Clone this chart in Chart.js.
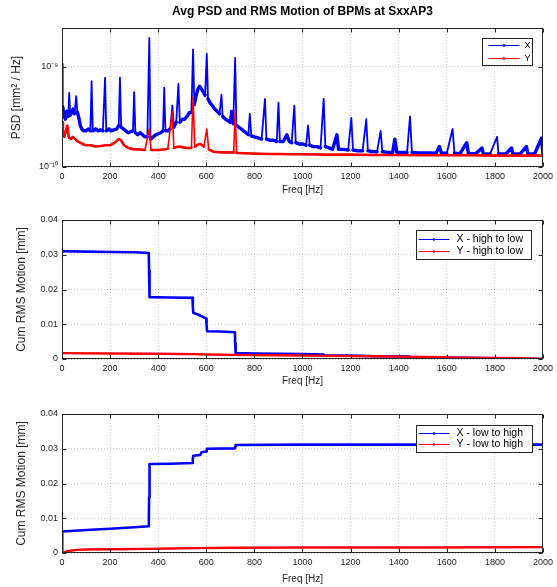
<!DOCTYPE html>
<html><head><meta charset="utf-8">
<script src="https://cdn.jsdelivr.net/npm/chart.js@4/dist/chart.umd.min.js"></script>
<style>
html,body{margin:0;padding:0;background:#fff;}
#wrap{position:relative;width:557px;height:587px;overflow:hidden;}
.c{position:absolute;left:0;width:557px;}
</style></head><body>
<div id="wrap">
<div class="c" style="top:0;height:200px"><canvas id="c1"></canvas></div>
<div class="c" style="top:200px;height:190px"><canvas id="c2"></canvas></div>
<div class="c" style="top:390px;height:197px"><canvas id="c3"></canvas></div>
</div>
<script>
// ---------- DATA ----------
const chartTitle = 'Avg PSD and RMS Motion of BPMs at SxxAP3';
const freqTicks = [0,200,400,600,800,1000,1200,1400,1600,1800,2000];
const psdTicks = [1e-10, 1e-9];
const psdTickLabels = ['10\u207B\u00B9\u2070', '10\u207B\u2079'];
const rmsTicks = [0, 0.01, 0.02, 0.03, 0.04];
const rmsTickLabels = ['0', '0.01', '0.02', '0.03', '0.04'];

const psdFreqX = [0,3,8,14,20,26,30,34,40,46,52,59,64,70,76,82,90,100,110,118,123,128,140,150,160,170,179,184,195,205,215,228,236,241,246,255,265,275,285,295,300,305,315,325,335,345,355,363,368,380,390,400,410,420,425,430,440,450,459,465,475,484,490,500,510,520,530,538,545,550,558,565,572,580,588,595,602,607,615,625,635,645,655,663,668,680,690,700,706,712,720,725,735,750,765,775,781,787,800,815,830,844,850,865,880,893,900,906,920,935,945,955,966,972,985,1000,1015,1023,1030,1045,1060,1075,1088,1095,1110,1125,1143,1150,1170,1190,1203,1210,1230,1250,1265,1272,1290,1310,1325,1332,1355,1375,1384,1392,1415,1435,1447,1455,1480,1505,1530,1555,1569,1578,1600,1624,1632,1655,1683,1690,1720,1746,1752,1780,1809,1815,1845,1869,1875,1905,1931,1937,1965,1994,2000];
const psdX = [1.07e-9,4.0e-10,3.3e-10,3.0e-10,3.6e-10,3.2e-10,5.5e-10,3.3e-10,3.5e-10,3.8e-10,3.4e-10,5.1e-10,3.5e-10,3.1e-10,2.6e-10,2.4e-10,2.3e-10,2.3e-10,2.4e-10,2.3e-10,7.2e-10,2.3e-10,2.4e-10,2.3e-10,2.35e-10,2.3e-10,7.8e-10,2.3e-10,2.4e-10,2.3e-10,2.35e-10,2.4e-10,2.6e-10,7.8e-10,2.5e-10,2.4e-10,2.3e-10,2.2e-10,2.25e-10,2.3e-10,5.6e-10,2.2e-10,2.1e-10,2.2e-10,2.1e-10,2.0e-10,2.0e-10,1.95e-9,1.9e-10,2.0e-10,2.1e-10,2.15e-10,2.2e-10,2.3e-10,6.2e-10,2.3e-10,2.3e-10,2.4e-10,4.1e-10,2.5e-10,2.8e-10,6.8e-10,2.8e-10,3.0e-10,3.0e-10,3.2e-10,3.5e-10,3.5e-10,1.5e-9,4.2e-10,5.2e-10,6.0e-10,6.4e-10,6.0e-10,5.6e-10,5.2e-10,1.35e-9,4.8e-10,4.4e-10,4.1e-10,3.8e-10,3.6e-10,3.4e-10,5.3e-10,3.2e-10,3.0e-10,2.9e-10,2.8e-10,3.6e-10,2.7e-10,1.23e-9,2.6e-10,2.5e-10,2.35e-10,2.2e-10,2.1e-10,3.4e-10,2.05e-10,2.0e-10,1.95e-10,1.9e-10,4.8e-10,1.9e-10,1.85e-10,1.85e-10,1.8e-10,4.4e-10,1.8e-10,1.8e-10,2.1e-10,1.8e-10,1.75e-10,4.1e-10,1.75e-10,1.7e-10,1.7e-10,1.65e-10,2.6e-10,1.65e-10,1.6e-10,1.6e-10,1.55e-10,4.8e-10,1.6e-10,1.55e-10,1.5e-10,2.1e-10,1.5e-10,1.5e-10,1.48e-10,3.1e-10,1.48e-10,1.45e-10,1.45e-10,3.0e-10,1.45e-10,1.43e-10,1.42e-10,2.3e-10,1.42e-10,1.4e-10,1.4e-10,1.9e-10,1.4e-10,1.4e-10,1.4e-10,3.2e-10,1.4e-10,1.38e-10,1.38e-10,1.38e-10,1.37e-10,1.6e-10,1.37e-10,1.37e-10,2.4e-10,1.37e-10,1.36e-10,1.75e-10,1.36e-10,1.36e-10,1.55e-10,1.36e-10,1.35e-10,2.0e-10,1.35e-10,1.35e-10,1.55e-10,1.35e-10,1.35e-10,1.6e-10,1.35e-10,1.35e-10,1.95e-10,1.35e-10];

const psdFreqY = [0,4,10,16,22,28,36,45,55,65,75,85,100,120,140,160,180,200,220,235,245,258,275,300,320,345,363,370,400,425,440,459,465,484,500,520,538,545,552,565,575,590,602,610,630,660,690,714,720,726,760,800,850,900,950,1000,1100,1200,1300,1400,1500,1600,1700,1800,1900,2000];
const psdY = [2.8e-10,2.2e-10,2.0e-10,2.3e-10,2.6e-10,2.0e-10,1.9e-10,2.0e-10,1.9e-10,1.8e-10,1.75e-10,1.7e-10,1.65e-10,1.65e-10,1.6e-10,1.62e-10,1.65e-10,1.65e-10,1.75e-10,1.9e-10,1.85e-10,1.65e-10,1.55e-10,1.5e-10,1.5e-10,1.48e-10,2.4e-10,1.48e-10,1.48e-10,1.5e-10,1.52e-10,3.6e-10,1.55e-10,1.6e-10,1.58e-10,1.55e-10,1.55e-10,5.0e-10,1.6e-10,1.68e-10,1.7e-10,1.6e-10,2.4e-10,1.5e-10,1.42e-10,1.4e-10,1.4e-10,1.4e-10,3.6e-10,1.38e-10,1.37e-10,1.36e-10,1.35e-10,1.35e-10,1.34e-10,1.34e-10,1.33e-10,1.33e-10,1.32e-10,1.32e-10,1.31e-10,1.31e-10,1.31e-10,1.3e-10,1.3e-10,1.3e-10];

const cumHLFreqX = [0,100,200,300,361,362,364,450,543,544,546,575,600,601,603,660,719,720,722,800,900,1000,1088,1090,1200,1300,1447,1450,1600,1800,2000];
const cumHLX = [0.0310,0.0309,0.0308,0.0307,0.0305,0.0255,0.0178,0.0177,0.0176,0.0150,0.0133,0.0125,0.0116,0.0100,0.0080,0.0079,0.0077,0.0045,0.0017,0.0016,0.0015,0.0014,0.0013,0.0011,0.0010,0.0008,0.0007,0.0005,0.0004,0.0002,0.0000];
const cumHLFreqY = [0,200,400,545,600,720,900,1100,1300,1500,1700,1900,2000];
const cumHLY = [0.0017,0.0016,0.0015,0.0014,0.0013,0.0012,0.0011,0.0009,0.0008,0.0006,0.0004,0.0002,0.0];

const cumLHFreqX = [0,1,100,200,300,361,362,364,450,543,544,546,575,580,600,602,719,720,722,1000,1500,2000];
const cumLHX = [0,0.0062,0.0066,0.0070,0.0074,0.0077,0.0160,0.0256,0.0257,0.0259,0.0272,0.0280,0.0282,0.0290,0.0292,0.0300,0.0301,0.0306,0.0311,0.0312,0.0312,0.0312];
const cumLHFreqY = [0,20,60,100,200,363,450,545,720,1000,1500,2000];
const cumLHY = [0,0.0005,0.0009,0.0010,0.0011,0.0012,0.0013,0.0014,0.0015,0.0016,0.0016,0.0017];

// ---------- STYLE ----------
const FONT = "'Liberation Sans', Arial, Helvetica, sans-serif";
const TXT = '#262626';
const BLUE = '#0000ff', RED = '#ff0000';
const GRID = 'rgba(0,0,0,0.2)';
Chart.defaults.font.family = FONT;
Chart.defaults.color = TXT;

const pts = (xs, ys) => xs.map((f, i) => ({x: f, y: ys[i]}));

const framePlugin = {
  id: 'frame',
  afterDatasetsDraw(chart) {
    const {ctx, chartArea: a} = chart;
    const xs = chart.scales.x, ys = chart.scales.y;
    ctx.save();
    ctx.strokeStyle = TXT; ctx.lineWidth = 1;
    const L = Math.round(a.left) + 0.5, T = Math.round(a.top) + 0.5;
    const R = Math.round(a.right) - 0.5, B = Math.round(a.bottom) - 0.5;
    ctx.strokeRect(L, T, R - L, B - T);
    ctx.beginPath();
    xs.ticks.forEach(t => {
      const p = Math.round(xs.getPixelForValue(t.value)) + 0.5;
      ctx.moveTo(p, B); ctx.lineTo(p, B - 4);
      ctx.moveTo(p, T); ctx.lineTo(p, T + 4);
    });
    ys.ticks.forEach(t => {
      const p = Math.round(ys.getPixelForValue(t.value)) + 0.5;
      ctx.moveTo(L, p); ctx.lineTo(L + 4, p);
      ctx.moveTo(R, p); ctx.lineTo(R - 4, p);
    });
    ctx.stroke();
    ctx.restore();
  }
};

const boxLegend = {
  id: 'boxLegend',
  afterDraw(chart, args, o) {
    const {ctx, chartArea: a} = chart;
    const x0 = Math.round(a.right - o.right - o.width) + 0.5;
    const y0 = Math.round(a.top + o.top) + 0.5;
    ctx.save();
    ctx.fillStyle = '#fff';
    ctx.fillRect(x0, y0, o.width, o.height);
    ctx.strokeStyle = TXT; ctx.lineWidth = 1;
    ctx.strokeRect(x0, y0, o.width, o.height);
    chart.data.datasets.forEach((ds, i) => {
      const yy = y0 + o.rows[i];
      ctx.strokeStyle = ds.borderColor; ctx.lineWidth = 1;
      ctx.beginPath(); ctx.moveTo(x0 + o.lineStart, yy); ctx.lineTo(x0 + o.lineEnd, yy); ctx.stroke();
      ctx.fillStyle = ds.borderColor;
      ctx.beginPath(); ctx.arc(x0 + (o.lineStart + o.lineEnd) / 2, yy, 1.3, 0, Math.PI * 2); ctx.fill();
      ctx.fillStyle = '#000';
      ctx.font = o.fontSize + 'px ' + FONT;
      ctx.textBaseline = 'middle'; ctx.textAlign = 'left';
      ctx.fillText(ds.label, x0 + o.textX, yy);
    });
    ctx.restore();
  }
};

function xAxis(height, titlePadBottom) {
  return {
    type: 'linear', min: 0, max: 2000,
    afterBuildTicks: s => { s.ticks = freqTicks.map(v => ({value: v})); },
    afterFit: s => { s.height = height; },
    ticks: {font: {size: 9}, color: TXT, padding: 4, maxRotation: 0, autoSkip: false,
            callback: v => String(v)},
    grid: {color: GRID, drawTicks: false, lineWidth: 1},
    border: {display: false, dash: [1, 2]},
    title: {display: true, text: 'Freq [Hz]', font: {size: 10}, color: TXT,
            padding: {top: 0, bottom: titlePadBottom}}
  };
}

function yAxisCommon(label, titlePadTop) {
  return {
    afterFit: s => { s.width = 62; },
    grid: {color: GRID, drawTicks: false, lineWidth: 1},
    border: {display: false, dash: [1, 2]},
    title: {display: true, text: label, font: {size: 12}, color: TXT,
            padding: {top: titlePadTop, bottom: 0}}
  };
}

function lineDs(label, data, color, width, order, spikeWidth) {
  const ds = {label, data, borderColor: color, backgroundColor: color, borderWidth: width,
          borderJoinStyle: 'round', borderCapStyle: 'round',
          pointRadius: 0, showLine: true, fill: false, tension: 0, order};
  if (spikeWidth) {
    // narrow spectral lines are drawn thinner than the noisy baseline band
    ds.segment = {borderWidth: c => {
      const r = c.p0.parsed.y / c.p1.parsed.y;
      return (r > 1.45 || r < 1 / 1.45) ? spikeWidth : width;
    }};
  }
  return ds;
}

const common = {
  responsive: true, maintainAspectRatio: false, animation: false,
  events: [],
};

// ---------- CHART 1 : PSD ----------
new Chart(document.getElementById('c1'), {
  type: 'scatter',
  data: {datasets: [
    lineDs('X', pts(psdFreqX, psdX), BLUE, 3.4, 1, 1.8),
    lineDs('Y', pts(psdFreqY, psdY), RED, 2.6, 0, 1.6)
  ]},
  options: Object.assign({}, common, {
    layout: {padding: {left: 0, right: 13, top: 0, bottom: 0}},
    scales: {
      x: xAxis(33, 4),
      y: Object.assign(yAxisCommon('PSD [mm\u00B2 / Hz]', 9.8), {
        type: 'logarithmic', min: 1e-10, max: 2.45e-9,
        afterBuildTicks: s => { s.ticks = psdTicks.map(v => ({value: v})); },
        ticks: {font: {size: 9}, color: TXT, padding: 4, callback: (v, i) => psdTickLabels[i]}
      })
    },
    plugins: {
      legend: {display: false}, tooltip: {enabled: false},
      title: {display: true, text: chartTitle, fullSize: false, color: '#000',
              font: {size: 12, weight: 'bold'}, padding: {top: 4, bottom: 9.6}},
      boxLegend: {right: 11, top: 10, width: 50, height: 27, rows: [7, 20],
                  lineStart: 6, lineEnd: 37, textX: 42, fontSize: 9}
    }
  }),
  plugins: [framePlugin, boxLegend]
});

// ---------- CHARTS 2 & 3 : cumulative RMS ----------
function rmsChart(id, dsX, dsY, xh, xpb, top, legendOpts) {
  new Chart(document.getElementById(id), {
    type: 'scatter',
    data: {datasets: [dsX, dsY]},
    options: Object.assign({}, common, {
      layout: {padding: {left: 0, right: 13, top: top, bottom: 0}},
      scales: {
        x: xAxis(xh, xpb),
        y: Object.assign(yAxisCommon('Cum RMS Motion [mm]', 14.8), {
          type: 'linear', min: 0, max: 0.04,
          afterBuildTicks: s => { s.ticks = rmsTicks.map(v => ({value: v})); },
          ticks: {font: {size: 9}, color: TXT, padding: 4, callback: (v, i) => rmsTickLabels[i]}
        })
      },
      plugins: {legend: {display: false}, tooltip: {enabled: false}, boxLegend: legendOpts}
    }),
    plugins: [framePlugin, boxLegend]
  });
}

rmsChart('c2',
  lineDs('X - high to low', pts(cumHLFreqX, cumHLX), BLUE, 2.6, 1),
  lineDs('Y - high to low', pts(cumHLFreqY, cumHLY), RED, 2.4, 0),
  31, 3, 20,
  {right: 12, top: 10, width: 115, height: 29, rows: [9, 21], lineStart: 2, lineEnd: 33, textX: 40, fontSize: 10.5});

rmsChart('c3',
  lineDs('X - low to high', pts(cumLHFreqX, cumLHX), BLUE, 2.6, 1),
  lineDs('Y - low to high', pts(cumLHFreqY, cumLHY), RED, 2.4, 0),
  34, 2, 24,
  {right: 11, top: 11, width: 116, height: 27, rows: [8, 19], lineStart: 2, lineEnd: 33, textX: 40, fontSize: 10.5});
</script>
</body></html>
